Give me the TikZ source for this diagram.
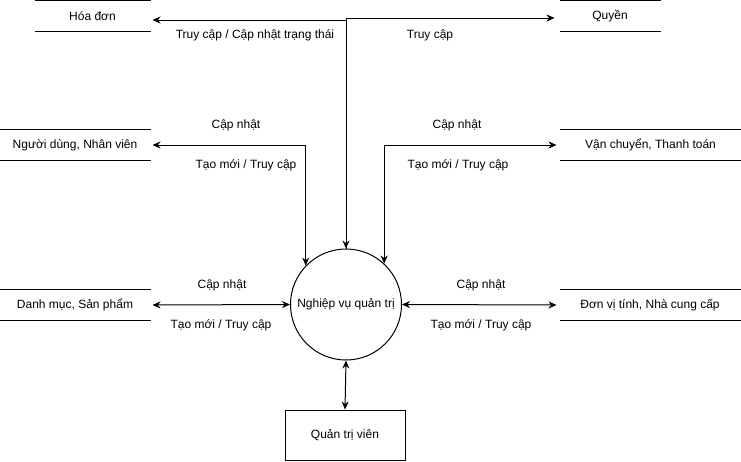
\documentclass[tikz,border=0pt]{standalone}
\usepackage{fontspec}
\setmainfont{Liberation Sans}
\usetikzlibrary{arrows.meta,calc}

\tikzset{
    store/.style={
        minimum width=#1,
        minimum height=30,
        inner sep=0pt,
        append after command={
            (\tikzlastnode.north west) edge (\tikzlastnode.north east)
            (\tikzlastnode.south west) edge (\tikzlastnode.south east)
        }
    },
    lbl/.style={inner sep=0pt}
}

\begin{document}
\begin{tikzpicture}[
        x=1pt, y=-1pt,
        line width=1pt,
        >={Stealth[length=8pt,width=7pt]},
        every node/.style={font=\fontsize{12}{14}\selectfont}
    ]
    \useasboundingbox (0,0) rectangle (741,461);

    % process
    \node[circle, draw, minimum size=111, inner sep=0pt]
        (nghiepvu) at (346,304.5) {Nghiệp vụ quản trị};

    % admin
    \node[draw, minimum width=120, minimum height=50]
        (quantri) at (345,435) {Quản trị viên};

    % data stores
    \node[store=115] (hoadon) at (92.5,16.2) {Hóa đơn};
    \node[store=100] (quyen) at (610,16.2) {Quyền};
    \node[store=150] (nguoidung) at (75,145) {Người dùng, Nhân viên};
    \node[store=181] (vanchuyen) at (650.5,145) {Vận chuyển, Thanh toán};
    \node[store=150] (danhmuc) at (75,305) {Danh mục, Sản phẩm};
    \node[store=180] (donvi) at (650,305) {Đơn vị tính, Nhà cung cấp};

    % hoa don / quyen
    \draw[<->, shorten <=2pt]
        ([yshift=-3.8pt]hoadon.east) -|
        (nghiepvu.north);
    \draw[->, shorten >=5pt]
        (nghiepvu.north) |-
        ([yshift=-1.8pt]quyen.west);
    \node[lbl] (lbl_hd) at (255,35) {Truy cập / Cập nhật trạng thái};
    \node[lbl] (lbl_q) at (430,35) {Truy cập};

    % nguoi dung
    \draw[<->, shorten <=2pt]
        (nguoidung.east) -|
        (nghiepvu.136);
    \node[lbl] (lbl_nd_up) at (236,125) {Cập nhật};
    \node[lbl] (lbl_nd_down) at (246,165) {Tạo mới / Truy cập};

    % van chuyen
    \draw[<->, shorten <=3pt]
        (vanchuyen.west) -|
        (nghiepvu.47);
    \node[lbl] (lbl_vc_up) at (457,125) {Cập nhật};
    \node[lbl] (lbl_vc_down) at (458,165) {Tạo mới / Truy cập};

    % danh muc
    \draw[<->, shorten <=2pt]
        (danhmuc.east) --
        (nghiepvu.west);
    \node[lbl] (lbl_dm_up) at (222,285) {Cập nhật};
    \node[lbl] (lbl_dm_down) at (221,325) {Tạo mới / Truy cập};

    % don vi
    \draw[<->, shorten >=3pt]
        (nghiepvu.east) --
        (donvi.west);
    \node[lbl] (lbl_dv_up) at (481,285) {Cập nhật};
    \node[lbl] (lbl_dv_down) at (481,325) {Tạo mới / Truy cập};

    % quan tri vien
    \draw[<->]
        (nghiepvu.south) --
        (quantri.north);

\end{tikzpicture}
\end{document}
